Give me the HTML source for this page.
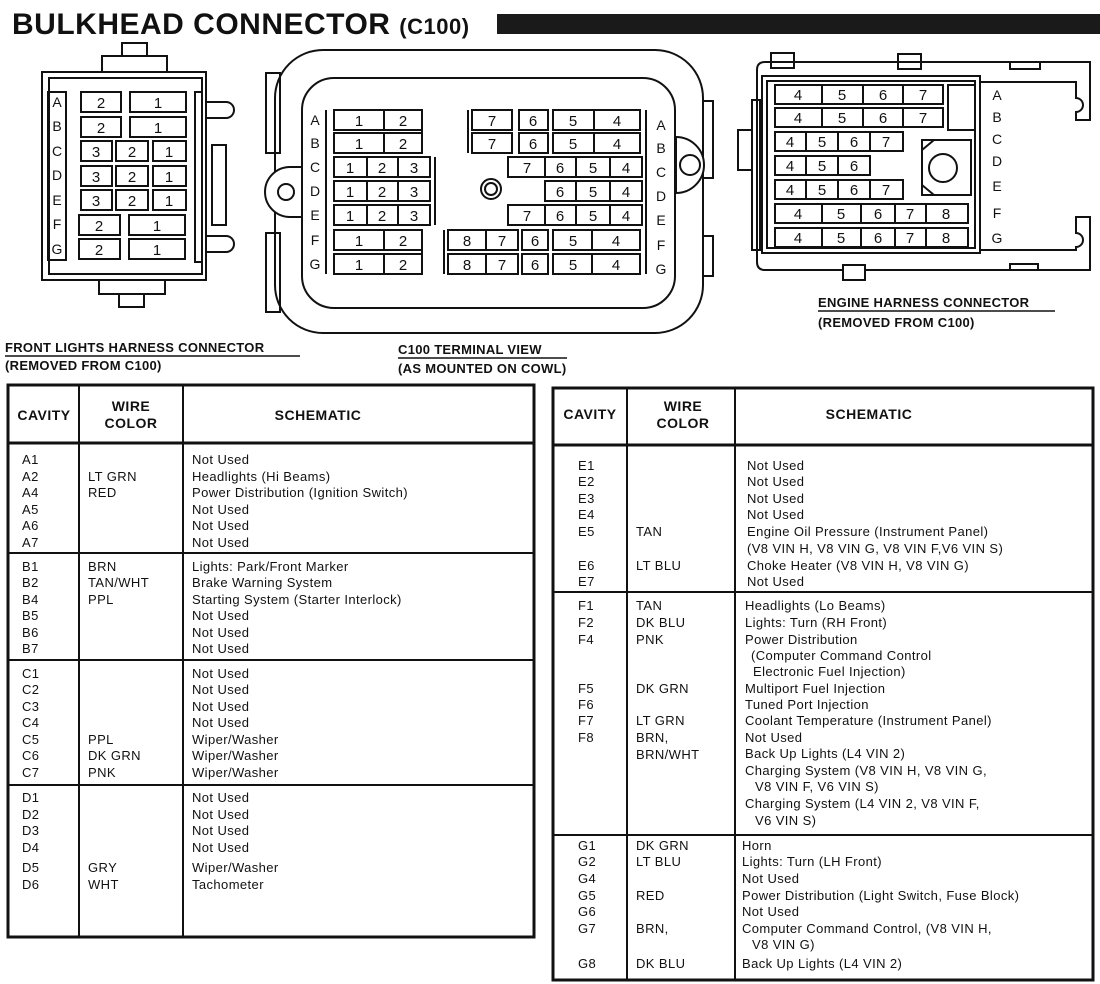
<!DOCTYPE html>
<html><head><meta charset="utf-8"><style>
html,body{margin:0;padding:0;background:#fff}
svg{display:block}
text{font-family:"Liberation Sans",sans-serif;fill:#111}
.c{font-size:15px;text-anchor:middle}
.l{font-size:14px;text-anchor:middle}
.t{font-size:13px;letter-spacing:0.4px}
.h{font-size:14px;font-weight:bold;text-anchor:middle;letter-spacing:0.5px}
.cap{font-size:13px;font-weight:bold;letter-spacing:0.3px}
</style></head><body>
<svg width="1100" height="984" viewBox="0 0 1100 984" xmlns="http://www.w3.org/2000/svg">
<text x="12" y="34" style="font-size:30px;font-weight:bold;letter-spacing:0.5px">BULKHEAD CONNECTOR <tspan style="font-size:22px">(C100)</tspan></text>
<rect x="497" y="14" width="603" height="20" fill="#1a1a1a"/>

<!-- LEFT CONNECTOR -->
<g fill="none" stroke="#111" stroke-width="2">
<rect x="122" y="43" width="25" height="13"/>
<rect x="102" y="56" width="65" height="16"/>
<rect x="99" y="280" width="66" height="14"/>
<rect x="119" y="294" width="25" height="13"/>
<rect x="42" y="72" width="164" height="208"/>
<rect x="49" y="78" width="153" height="196"/>
<rect x="48" y="92" width="18" height="168"/>
<rect x="195" y="92" width="7" height="170"/>
<rect x="212" y="145" width="14" height="80"/>
<path d="M206 102 h20 a8 8 0 0 1 0 16 h-20"/>
<path d="M206 236 h20 a8 8 0 0 1 0 16 h-20"/>
</g>
<g fill="none" stroke="#111" stroke-width="2">
<rect x="81" y="92" width="40" height="20"/><rect x="130" y="92" width="56" height="20"/>
<rect x="81" y="117" width="40" height="20"/><rect x="130" y="117" width="56" height="20"/>
<rect x="81" y="141" width="31" height="20"/><rect x="116" y="141" width="32" height="20"/><rect x="153" y="141" width="33" height="20"/>
<rect x="81" y="166" width="31" height="20"/><rect x="116" y="166" width="32" height="20"/><rect x="153" y="166" width="33" height="20"/>
<rect x="81" y="190" width="31" height="20"/><rect x="116" y="190" width="32" height="20"/><rect x="153" y="190" width="33" height="20"/>
<rect x="79" y="215" width="41" height="20"/><rect x="129" y="215" width="56" height="20"/>
<rect x="79" y="239" width="41" height="20"/><rect x="129" y="239" width="56" height="20"/>
</g>
<g>
<text class="l" x="57" y="107">A</text><text class="l" x="57" y="131">B</text><text class="l" x="57" y="156">C</text><text class="l" x="57" y="180">D</text><text class="l" x="57" y="205">E</text><text class="l" x="57" y="229">F</text><text class="l" x="57" y="254">G</text>
<text class="c" x="101" y="108">2</text><text class="c" x="158" y="108">1</text>
<text class="c" x="101" y="133">2</text><text class="c" x="158" y="133">1</text>
<text class="c" x="96" y="157">3</text><text class="c" x="132" y="157">2</text><text class="c" x="169" y="157">1</text>
<text class="c" x="96" y="182">3</text><text class="c" x="132" y="182">2</text><text class="c" x="169" y="182">1</text>
<text class="c" x="96" y="206">3</text><text class="c" x="132" y="206">2</text><text class="c" x="169" y="206">1</text>
<text class="c" x="99" y="231">2</text><text class="c" x="157" y="231">1</text>
<text class="c" x="99" y="255">2</text><text class="c" x="157" y="255">1</text>
</g>

<!-- CENTER C100 -->
<g fill="none" stroke="#111" stroke-width="2">
<rect x="275" y="50" width="428" height="283" rx="48"/>
<rect x="302" y="78" width="373" height="230" rx="32"/>
<rect x="266" y="73" width="14" height="80"/>
<rect x="266" y="233" width="14" height="79"/>
<path d="M290 167 a25 25 0 0 0 0 50 h12 v-50z" fill="#fff"/>
<circle cx="286" cy="192" r="8"/>
<rect x="703" y="101" width="10" height="77"/>
<rect x="703" y="236" width="10" height="40"/>
<path d="M676 137 a28 28 0 0 1 0 56" fill="#fff"/>
<path d="M676 137 v56"/>
<circle cx="690" cy="165" r="10"/>
<circle cx="491" cy="189" r="10"/><circle cx="491" cy="189" r="6"/>
<path d="M326 110 v164"/>
<path d="M422 110 v43 M435 157 v68 M422 230 v44"/>
<path d="M646 110 v164"/>
<path d="M468 110 v43 M444 230 v44"/>
</g>
<g fill="none" stroke="#111" stroke-width="2">
<rect x="334" y="110" width="50" height="20"/><rect x="384" y="110" width="38" height="20"/>
<rect x="334" y="133" width="50" height="20"/><rect x="384" y="133" width="38" height="20"/>
<rect x="334" y="157" width="33" height="20"/><rect x="367" y="157" width="31" height="20"/><rect x="398" y="157" width="32" height="20"/>
<rect x="334" y="181" width="33" height="20"/><rect x="367" y="181" width="31" height="20"/><rect x="398" y="181" width="32" height="20"/>
<rect x="334" y="205" width="33" height="20"/><rect x="367" y="205" width="31" height="20"/><rect x="398" y="205" width="32" height="20"/>
<rect x="334" y="230" width="50" height="20"/><rect x="384" y="230" width="38" height="20"/>
<rect x="334" y="254" width="50" height="20"/><rect x="384" y="254" width="38" height="20"/>

<rect x="472" y="110" width="40" height="20"/><rect x="519" y="110" width="29" height="20"/><rect x="553" y="110" width="41" height="20"/><rect x="594" y="110" width="46" height="20"/>
<rect x="472" y="133" width="40" height="20"/><rect x="519" y="133" width="29" height="20"/><rect x="553" y="133" width="41" height="20"/><rect x="594" y="133" width="46" height="20"/>
<rect x="508" y="157" width="37" height="20"/><rect x="545" y="157" width="31" height="20"/><rect x="576" y="157" width="34" height="20"/><rect x="610" y="157" width="32" height="20"/>
<rect x="545" y="181" width="31" height="20"/><rect x="576" y="181" width="34" height="20"/><rect x="610" y="181" width="32" height="20"/>
<rect x="508" y="205" width="37" height="20"/><rect x="545" y="205" width="31" height="20"/><rect x="576" y="205" width="34" height="20"/><rect x="610" y="205" width="32" height="20"/>
<rect x="448" y="230" width="38" height="20"/><rect x="486" y="230" width="32" height="20"/><rect x="522" y="230" width="26" height="20"/><rect x="553" y="230" width="39" height="20"/><rect x="592" y="230" width="48" height="20"/>
<rect x="448" y="254" width="38" height="20"/><rect x="486" y="254" width="32" height="20"/><rect x="522" y="254" width="26" height="20"/><rect x="553" y="254" width="39" height="20"/><rect x="592" y="254" width="48" height="20"/>
</g>
<g>
<text class="l" x="315" y="125">A</text><text class="l" x="315" y="148">B</text><text class="l" x="315" y="172">C</text><text class="l" x="315" y="196">D</text><text class="l" x="315" y="220">E</text><text class="l" x="315" y="245">F</text><text class="l" x="315" y="269">G</text>
<text class="l" x="661" y="130">A</text><text class="l" x="661" y="153">B</text><text class="l" x="661" y="177">C</text><text class="l" x="661" y="201">D</text><text class="l" x="661" y="225">E</text><text class="l" x="661" y="250">F</text><text class="l" x="661" y="274">G</text>
<text class="c" x="359" y="126">1</text><text class="c" x="403" y="126">2</text>
<text class="c" x="359" y="149">1</text><text class="c" x="403" y="149">2</text>
<text class="c" x="350" y="173">1</text><text class="c" x="382" y="173">2</text><text class="c" x="414" y="173">3</text>
<text class="c" x="350" y="197">1</text><text class="c" x="382" y="197">2</text><text class="c" x="414" y="197">3</text>
<text class="c" x="350" y="221">1</text><text class="c" x="382" y="221">2</text><text class="c" x="414" y="221">3</text>
<text class="c" x="359" y="246">1</text><text class="c" x="403" y="246">2</text>
<text class="c" x="359" y="270">1</text><text class="c" x="403" y="270">2</text>
<text class="c" x="492" y="126">7</text><text class="c" x="533" y="126">6</text><text class="c" x="573" y="126">5</text><text class="c" x="617" y="126">4</text>
<text class="c" x="492" y="149">7</text><text class="c" x="533" y="149">6</text><text class="c" x="573" y="149">5</text><text class="c" x="617" y="149">4</text>
<text class="c" x="527" y="173">7</text><text class="c" x="560" y="173">6</text><text class="c" x="593" y="173">5</text><text class="c" x="626" y="173">4</text>
<text class="c" x="560" y="197">6</text><text class="c" x="593" y="197">5</text><text class="c" x="626" y="197">4</text>
<text class="c" x="527" y="221">7</text><text class="c" x="560" y="221">6</text><text class="c" x="593" y="221">5</text><text class="c" x="626" y="221">4</text>
<text class="c" x="467" y="246">8</text><text class="c" x="502" y="246">7</text><text class="c" x="535" y="246">6</text><text class="c" x="573" y="246">5</text><text class="c" x="616" y="246">4</text>
<text class="c" x="467" y="270">8</text><text class="c" x="502" y="270">7</text><text class="c" x="535" y="270">6</text><text class="c" x="573" y="270">5</text><text class="c" x="616" y="270">4</text>
</g>

<!-- ENGINE CONNECTOR -->
<g fill="none" stroke="#111" stroke-width="2">
<rect x="771" y="53" width="23" height="15"/>
<rect x="898" y="54" width="23" height="15"/>
<rect x="1010" y="62" width="30" height="7"/>
<path d="M765 62 H1090 V120 H1076 V112 a7 7 0 0 0 0 -14 V82 H980"/>
<path d="M765 62 q-8 0 -8 8 V262 q0 8 8 8 H1090 V217 H1076 V233 a7 7 0 0 1 0 14 V250 H980"/>
<rect x="843" y="265" width="22" height="15" fill="#fff"/>
<rect x="1010" y="264" width="28" height="6"/>
<rect x="762" y="76" width="218" height="177"/>
<rect x="767" y="81" width="208" height="167"/>
<rect x="738" y="130" width="14" height="40"/>
<rect x="752" y="100" width="8" height="150"/>
<rect x="948" y="85" width="27" height="45"/>
<path d="M922 140 H971 V195 H922 Z"/>
<circle cx="943" cy="168" r="14"/>
<path d="M922 150 l12 -10 M922 185 l12 10"/>
</g>
<g fill="none" stroke="#111" stroke-width="2">
<rect x="775" y="85" width="47" height="19"/><rect x="822" y="85" width="41" height="19"/><rect x="863" y="85" width="40" height="19"/><rect x="903" y="85" width="40" height="19"/>
<rect x="775" y="108" width="47" height="19"/><rect x="822" y="108" width="41" height="19"/><rect x="863" y="108" width="40" height="19"/><rect x="903" y="108" width="40" height="19"/>
<rect x="775" y="132" width="31" height="19"/><rect x="806" y="132" width="32" height="19"/><rect x="838" y="132" width="32" height="19"/><rect x="870" y="132" width="33" height="19"/>
<rect x="775" y="156" width="31" height="19"/><rect x="806" y="156" width="32" height="19"/><rect x="838" y="156" width="32" height="19"/>
<rect x="775" y="180" width="31" height="19"/><rect x="806" y="180" width="32" height="19"/><rect x="838" y="180" width="32" height="19"/><rect x="870" y="180" width="33" height="19"/>
<rect x="775" y="204" width="47" height="19"/><rect x="822" y="204" width="39" height="19"/><rect x="861" y="204" width="34" height="19"/><rect x="895" y="204" width="31" height="19"/><rect x="926" y="204" width="42" height="19"/>
<rect x="775" y="228" width="47" height="19"/><rect x="822" y="228" width="39" height="19"/><rect x="861" y="228" width="34" height="19"/><rect x="895" y="228" width="31" height="19"/><rect x="926" y="228" width="42" height="19"/>
</g>
<g>
<text class="l" x="997" y="100">A</text><text class="l" x="997" y="122">B</text><text class="l" x="997" y="144">C</text><text class="l" x="997" y="166">D</text><text class="l" x="997" y="191">E</text><text class="l" x="997" y="218">F</text><text class="l" x="997" y="243">G</text>
<text class="c" x="798" y="100">4</text><text class="c" x="842" y="100">5</text><text class="c" x="883" y="100">6</text><text class="c" x="923" y="100">7</text>
<text class="c" x="798" y="123">4</text><text class="c" x="842" y="123">5</text><text class="c" x="883" y="123">6</text><text class="c" x="923" y="123">7</text>
<text class="c" x="790" y="147">4</text><text class="c" x="822" y="147">5</text><text class="c" x="854" y="147">6</text><text class="c" x="886" y="147">7</text>
<text class="c" x="790" y="171">4</text><text class="c" x="822" y="171">5</text><text class="c" x="854" y="171">6</text>
<text class="c" x="790" y="195">4</text><text class="c" x="822" y="195">5</text><text class="c" x="854" y="195">6</text><text class="c" x="886" y="195">7</text>
<text class="c" x="798" y="219">4</text><text class="c" x="841" y="219">5</text><text class="c" x="878" y="219">6</text><text class="c" x="910" y="219">7</text><text class="c" x="946" y="219">8</text>
<text class="c" x="798" y="243">4</text><text class="c" x="841" y="243">5</text><text class="c" x="878" y="243">6</text><text class="c" x="910" y="243">7</text><text class="c" x="946" y="243">8</text>
</g>

<text class="cap" x="818" y="307">ENGINE HARNESS CONNECTOR</text>
<line x1="818" y1="311" x2="1055" y2="311" stroke="#111" stroke-width="1.5"/>
<text class="cap" x="818" y="327">(REMOVED FROM C100)</text>
<text class="cap" x="5" y="352">FRONT LIGHTS HARNESS CONNECTOR</text>
<line x1="5" y1="356" x2="300" y2="356" stroke="#111" stroke-width="1.5"/>
<text class="cap" x="5" y="370">(REMOVED FROM C100)</text>
<text class="cap" x="398" y="354">C100 TERMINAL VIEW</text>
<line x1="398" y1="358" x2="567" y2="358" stroke="#111" stroke-width="1.5"/>
<text class="cap" x="398" y="373">(AS MOUNTED ON COWL)</text>

<!-- LEFT TABLE -->
<g fill="none" stroke="#111">
<rect x="8" y="385" width="526" height="552" stroke-width="3"/>
<line x1="8" y1="443" x2="534" y2="443" stroke-width="3"/>
<line x1="79" y1="385" x2="79" y2="937" stroke-width="2"/>
<line x1="183" y1="385" x2="183" y2="937" stroke-width="2"/>
<line x1="8" y1="553" x2="534" y2="553" stroke-width="2"/>
<line x1="8" y1="660" x2="534" y2="660" stroke-width="2"/>
<line x1="8" y1="785" x2="534" y2="785" stroke-width="2"/>
</g>
<text class="h" x="44" y="420">CAVITY</text>
<text class="h" x="131" y="411">WIRE</text><text class="h" x="131" y="428">COLOR</text>
<text class="h" x="318" y="420">SCHEMATIC</text>
<g>
<text class="t" x="22" y="464">A1</text><text class="t" x="22" y="481">A2</text><text class="t" x="22" y="497">A4</text><text class="t" x="22" y="514">A5</text><text class="t" x="22" y="530">A6</text><text class="t" x="22" y="547">A7</text>
<text class="t" x="88" y="481">LT GRN</text><text class="t" x="88" y="497">RED</text>
<text class="t" x="192" y="464">Not Used</text><text class="t" x="192" y="481">Headlights (Hi Beams)</text><text class="t" x="192" y="497">Power Distribution (Ignition Switch)</text><text class="t" x="192" y="514">Not Used</text><text class="t" x="192" y="530">Not Used</text><text class="t" x="192" y="547">Not Used</text>

<text class="t" x="22" y="571">B1</text><text class="t" x="22" y="587">B2</text><text class="t" x="22" y="604">B4</text><text class="t" x="22" y="620">B5</text><text class="t" x="22" y="637">B6</text><text class="t" x="22" y="653">B7</text>
<text class="t" x="88" y="571">BRN</text><text class="t" x="88" y="587">TAN/WHT</text><text class="t" x="88" y="604">PPL</text>
<text class="t" x="192" y="571">Lights: Park/Front Marker</text><text class="t" x="192" y="587">Brake Warning System</text><text class="t" x="192" y="604">Starting System (Starter Interlock)</text><text class="t" x="192" y="620">Not Used</text><text class="t" x="192" y="637">Not Used</text><text class="t" x="192" y="653">Not Used</text>

<text class="t" x="22" y="678">C1</text><text class="t" x="22" y="694">C2</text><text class="t" x="22" y="711">C3</text><text class="t" x="22" y="727">C4</text><text class="t" x="22" y="744">C5</text><text class="t" x="22" y="760">C6</text><text class="t" x="22" y="777">C7</text>
<text class="t" x="88" y="744">PPL</text><text class="t" x="88" y="760">DK GRN</text><text class="t" x="88" y="777">PNK</text>
<text class="t" x="192" y="678">Not Used</text><text class="t" x="192" y="694">Not Used</text><text class="t" x="192" y="711">Not Used</text><text class="t" x="192" y="727">Not Used</text><text class="t" x="192" y="744">Wiper/Washer</text><text class="t" x="192" y="760">Wiper/Washer</text><text class="t" x="192" y="777">Wiper/Washer</text>

<text class="t" x="22" y="802">D1</text><text class="t" x="22" y="819">D2</text><text class="t" x="22" y="835">D3</text><text class="t" x="22" y="852">D4</text><text class="t" x="22" y="872">D5</text><text class="t" x="22" y="889">D6</text>
<text class="t" x="88" y="872">GRY</text><text class="t" x="88" y="889">WHT</text>
<text class="t" x="192" y="802">Not Used</text><text class="t" x="192" y="819">Not Used</text><text class="t" x="192" y="835">Not Used</text><text class="t" x="192" y="852">Not Used</text><text class="t" x="192" y="872">Wiper/Washer</text><text class="t" x="192" y="889">Tachometer</text>
</g>

<!-- RIGHT TABLE -->
<g fill="none" stroke="#111">
<rect x="553" y="388" width="540" height="592" stroke-width="3"/>
<line x1="553" y1="445" x2="1093" y2="445" stroke-width="3"/>
<line x1="627" y1="388" x2="627" y2="980" stroke-width="2"/>
<line x1="735" y1="388" x2="735" y2="980" stroke-width="2"/>
<line x1="553" y1="592" x2="1093" y2="592" stroke-width="2"/>
<line x1="553" y1="835" x2="1093" y2="835" stroke-width="2"/>
</g>
<text class="h" x="590" y="419">CAVITY</text>
<text class="h" x="683" y="411">WIRE</text><text class="h" x="683" y="428">COLOR</text>
<text class="h" x="869" y="419">SCHEMATIC</text>
<g>
<text class="t" x="578" y="470">E1</text><text class="t" x="578" y="486">E2</text><text class="t" x="578" y="503">E3</text><text class="t" x="578" y="519">E4</text><text class="t" x="578" y="536">E5</text><text class="t" x="578" y="570">E6</text><text class="t" x="578" y="586">E7</text>
<text class="t" x="636" y="536">TAN</text><text class="t" x="636" y="570">LT BLU</text>
<text class="t" x="747" y="470">Not Used</text><text class="t" x="747" y="486">Not Used</text><text class="t" x="747" y="503">Not Used</text><text class="t" x="747" y="519">Not Used</text><text class="t" x="747" y="536">Engine Oil Pressure (Instrument Panel)</text><text class="t" x="747" y="553">(V8 VIN H, V8 VIN G, V8 VIN F,V6 VIN S)</text><text class="t" x="747" y="570">Choke Heater (V8 VIN H, V8 VIN G)</text><text class="t" x="747" y="586">Not Used</text>

<text class="t" x="578" y="610">F1</text><text class="t" x="578" y="627">F2</text><text class="t" x="578" y="644">F4</text><text class="t" x="578" y="693">F5</text><text class="t" x="578" y="709">F6</text><text class="t" x="578" y="725">F7</text><text class="t" x="578" y="742">F8</text>
<text class="t" x="636" y="610">TAN</text><text class="t" x="636" y="627">DK BLU</text><text class="t" x="636" y="644">PNK</text><text class="t" x="636" y="693">DK GRN</text><text class="t" x="636" y="725">LT GRN</text><text class="t" x="636" y="742">BRN,</text><text class="t" x="636" y="759">BRN/WHT</text>
<text class="t" x="745" y="610">Headlights (Lo Beams)</text><text class="t" x="745" y="627">Lights:  Turn (RH Front)</text><text class="t" x="745" y="644">Power Distribution</text><text class="t" x="751" y="660">(Computer Command Control</text><text class="t" x="753" y="676">Electronic Fuel Injection)</text><text class="t" x="745" y="693">Multiport Fuel Injection</text><text class="t" x="745" y="709">Tuned Port Injection</text><text class="t" x="745" y="725">Coolant Temperature (Instrument Panel)</text><text class="t" x="745" y="742">Not Used</text><text class="t" x="745" y="758">Back Up Lights (L4 VIN 2)</text><text class="t" x="745" y="775">Charging System (V8 VIN H, V8 VIN G,</text><text class="t" x="755" y="791">V8 VIN F, V6 VIN S)</text><text class="t" x="745" y="808">Charging System (L4 VIN 2, V8 VIN F,</text><text class="t" x="755" y="825">V6 VIN S)</text>

<text class="t" x="578" y="850">G1</text><text class="t" x="578" y="866">G2</text><text class="t" x="578" y="883">G4</text><text class="t" x="578" y="900">G5</text><text class="t" x="578" y="916">G6</text><text class="t" x="578" y="933">G7</text><text class="t" x="578" y="968">G8</text>
<text class="t" x="636" y="850">DK GRN</text><text class="t" x="636" y="866">LT BLU</text><text class="t" x="636" y="900">RED</text><text class="t" x="636" y="933">BRN,</text><text class="t" x="636" y="968">DK BLU</text>
<text class="t" x="742" y="850">Horn</text><text class="t" x="742" y="866">Lights: Turn (LH Front)</text><text class="t" x="742" y="883">Not Used</text><text class="t" x="742" y="900">Power Distribution (Light Switch, Fuse Block)</text><text class="t" x="742" y="916">Not Used</text><text class="t" x="742" y="933">Computer Command Control, (V8 VIN H,</text><text class="t" x="752" y="949">V8 VIN G)</text><text class="t" x="742" y="968">Back Up Lights (L4 VIN 2)</text>
</g>
</svg>
</body></html>
